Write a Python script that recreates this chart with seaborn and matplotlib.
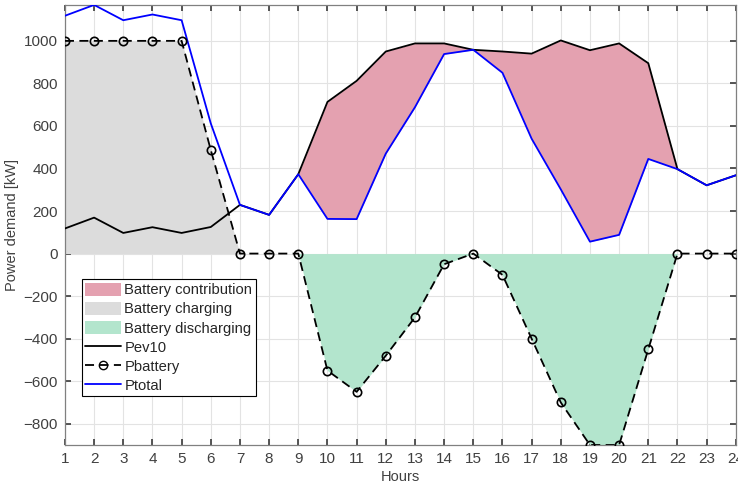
import numpy as np
import pandas as pd
import seaborn as sns
import matplotlib
matplotlib.use("Agg")
import matplotlib.pyplot as plt
from matplotlib.patches import Patch
from matplotlib.lines import Line2D

hours = list(range(1, 25))
pev10 = [118, 169, 97, 124, 97, 125, 229, 182, 373, 713, 812, 950,
         988, 988, 958, 950, 940, 1002, 956, 988, 895, 397, 321, 368]
pbattery = [1000, 1000, 1000, 1000, 1000, 487, 0, 0, 0, -550, -650, -480,
            -300, -50, 0, -100, -400, -700, -900, -900, -450, 0, 0, 0]
ptotal = [1118, 1169, 1097, 1124, 1097, 612, 229, 182, 373, 163, 162, 470,
          688, 938, 958, 850, 540, 302, 56, 88, 445, 397, 321, 368]
yticks = list(range(-800, 1001, 200))

df = pd.DataFrame({"Hours": hours, "Pev10": pev10,
                   "Pbattery": pbattery, "Ptotal": ptotal})

sns.set_theme(style="whitegrid")
plt.rcParams["font.family"] = ["Liberation Sans", "DejaVu Sans"]

fig = plt.figure(figsize=(7.38, 4.92), dpi=100)
ax = fig.add_axes([0.088, 0.0955, 0.909, 0.8945])
ax.set_facecolor("white")

h = np.array(hours)
pb = np.array(pbattery)
pe = np.array(pev10)
pt = np.array(ptotal)

pink = "#E4A1B0"
grey = "#DCDCDC"
green = "#B3E5CD"

charging = (h <= 7)
discharging = (h >= 9) & (h <= 22)
ax.fill_between(h[charging], 0, pb[charging], color=grey, lw=0, zorder=1)
ax.fill_between(h[discharging], 0, pb[discharging], color=green, lw=0, zorder=1)
ax.fill_between(h[discharging], pt[discharging], pe[discharging],
                color=pink, lw=0, zorder=1)

sns.lineplot(data=df, x="Hours", y="Pev10", color="black", lw=1.3,
             ax=ax, zorder=3)
sns.lineplot(data=df, x="Hours", y="Pbattery", color="black", lw=1.3,
             linestyle=(0, (5, 3)), marker="o", markersize=6,
             markerfacecolor="none", markeredgecolor="black",
             markeredgewidth=1.2, ax=ax, zorder=4)
sns.lineplot(data=df, x="Hours", y="Ptotal", color="#0000FF", lw=1.3,
             ax=ax, zorder=3)

ax.set_xlim(1, 24)
ax.set_ylim(min(pbattery), max(ptotal))
ax.set_xticks(hours)
ax.set_yticks(yticks)
ax.grid(True, color="#E3E3E3", lw=0.8)
ax.set_axisbelow(True)
for s in ax.spines.values():
    s.set_color("#808080")
    s.set_linewidth(0.9)
ax.tick_params(axis="both", direction="in", length=4, color="#404040",
               labelsize=11, labelcolor="#404040", top=True, right=True,
               bottom=True, left=True, pad=5)
ax.set_xlabel("Hours", fontsize=10.5, color="#404040", labelpad=3)
ax.set_ylabel("Power demand [kW]", fontsize=10.5, color="#404040", labelpad=3)

handles = [
    Patch(facecolor=pink, edgecolor="none", label="Battery contribution"),
    Patch(facecolor=grey, edgecolor="none", label="Battery charging"),
    Patch(facecolor=green, edgecolor="none", label="Battery discharging"),
    Line2D([], [], color="black", lw=1.3, label="Pev10"),
    Line2D([], [], color="black", lw=1.3, linestyle=(0, (5, 3)), marker="o",
           markersize=6, markerfacecolor="none", label="Pbattery"),
    Line2D([], [], color="#0000FF", lw=1.3, label="Ptotal"),
]
leg = ax.legend(handles=handles, loc="upper left",
                bbox_to_anchor=(0.025, 0.377), borderaxespad=0,
                fontsize=10.6, handlelength=2.45, handleheight=1.0,
                labelspacing=0.3, handletextpad=0.2, borderpad=0.25,
                fancybox=False, framealpha=1, edgecolor="black")
leg.get_frame().set_linewidth(0.8)

fig.savefig("out.png", dpi=100)
